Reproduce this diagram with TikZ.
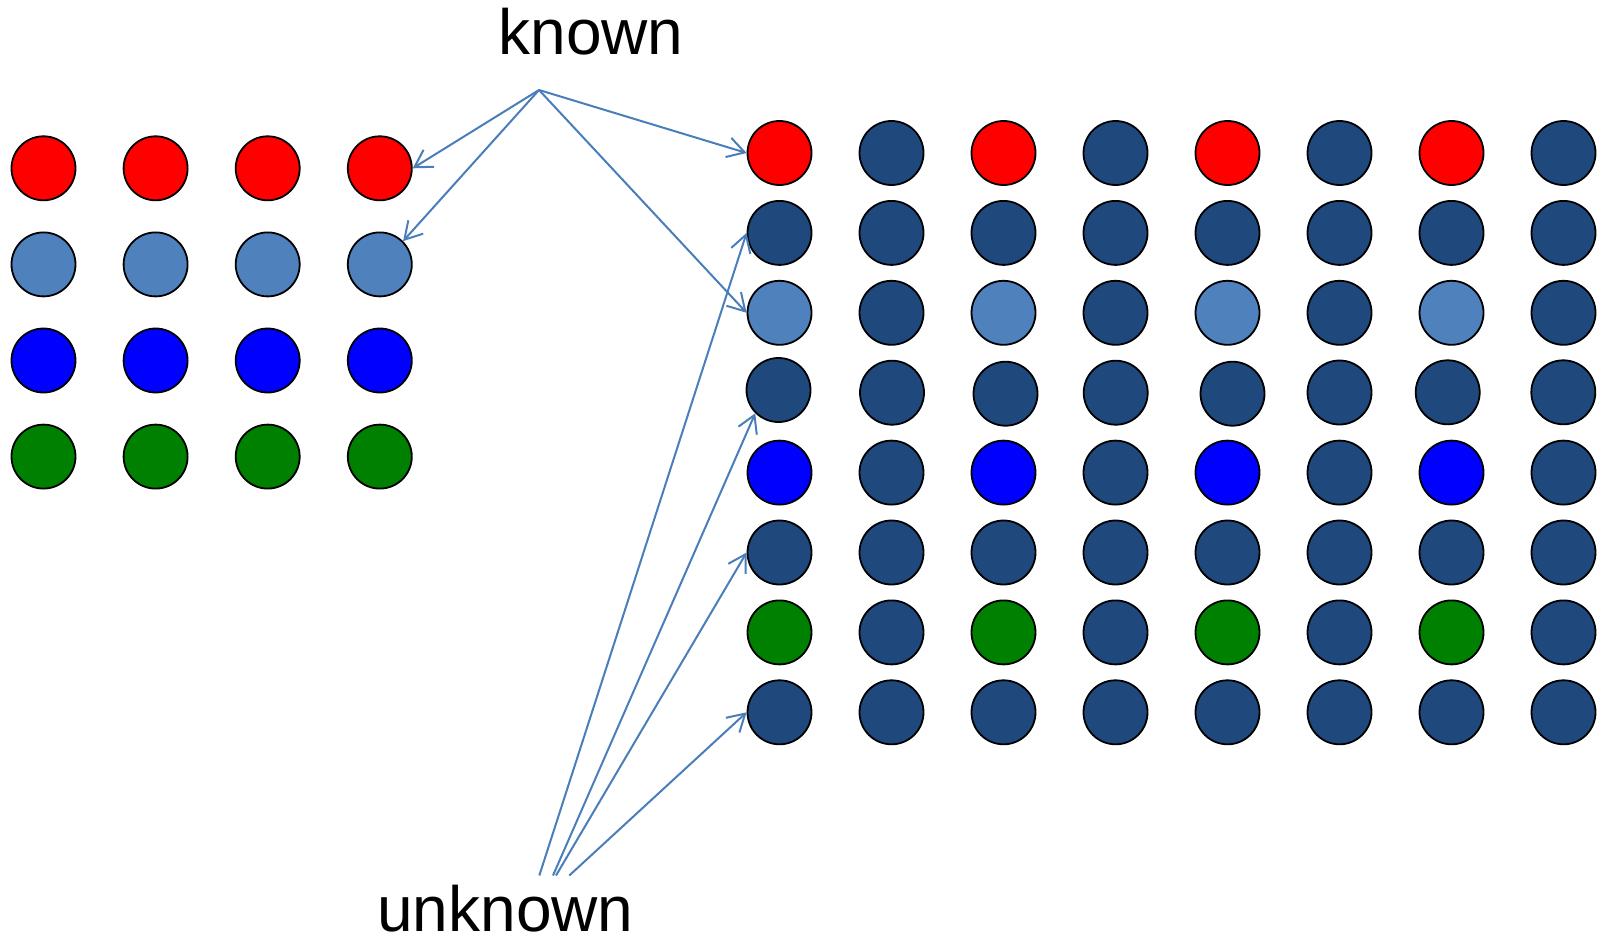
\documentclass[tikz,border=0pt]{standalone}
\usepackage{fontspec}
\setmainfont{Liberation Sans}
\usetikzlibrary{arrows.meta}

\definecolor{cred}{HTML}{FF0000}
\definecolor{clight}{HTML}{4F81BD}
\definecolor{cblue}{HTML}{0000FF}
\definecolor{cgreen}{HTML}{008000}
\definecolor{cnavy}{HTML}{1F497D}
\definecolor{carrow}{HTML}{4A7EBB}

\tikzset{
  dot/.style={circle, draw=black, line width=1.8pt, minimum size=64pt, inner sep=0pt},
  link/.style={draw=carrow, line width=2pt, -{Straight Barb[length=17pt,width=20pt]}},
  label/.style={font=\fontsize{64}{64}\selectfont, anchor=base, inner sep=0pt}
}

\begin{document}
\begin{tikzpicture}[x=1pt,y=-1pt]
\useasboundingbox (0,0) rectangle (1602,936);

% small sample of labelled classes
\foreach \clr [count=\r] in {cred,clight,cblue,cgreen}{
  \foreach \c in {1,...,4}{
    \node[dot, fill=\clr] (L\r\c) at ({43.5+112.1*(\c-1)},{168.3+96.1*(\r-1)}) {};
  }
}

% large grid: every other cell of the odd rows carries a class colour
\foreach \r/\accent in {1/cred,2/cnavy,3/clight,5/cblue,6/cnavy,7/cgreen,8/cnavy}{
  \foreach \c in {1,...,8}{
    \ifodd\c \def\fc{\accent}\else\def\fc{cnavy}\fi
    \node[dot, fill=\fc] (R\r\c) at ({779.5+112*(\c-1)},{153+79.9*(\r-1)}) {};
  }
}
\foreach \c/\x/\y in {1/778.5/390,2/892/392.7,3/1005.5/393.7,4/1115.7/392.7,
                      5/1232.5/393.7,6/1339.5/392.5,7/1447.7/392.3,8/1563.3/392.3}{
  \node[dot, fill=cnavy] (R4\c) at (\x,\y) {};
}

% labels
\node[label] (known) at (591,55) {known};
\node[label] (unknown) at (505.5,931.7) {unknown};

% arrow origins
\coordinate (k0) at (539,90);
\coordinate (u1) at (539.3,875.5);
\coordinate (u2) at (553,875.5);
\coordinate (u3) at (556,875.5);
\coordinate (u4) at (569.3,875.5);

% arrows from "known"
\draw[link] (k0) -- (L14.east);
\draw[link] (k0) -- (L24.north east);
\draw[link] (k0) -- (R11.west);
\draw[link] (k0) -- (R31.west);

% arrows from "unknown"
\draw[link] (u1) -- (R21.west);
\draw[link] (u2) -- (R41.south west);
\draw[link] (u3) -- (R61.west);
\draw[link] (u4) -- (R81.west);
\end{tikzpicture}
\end{document}
